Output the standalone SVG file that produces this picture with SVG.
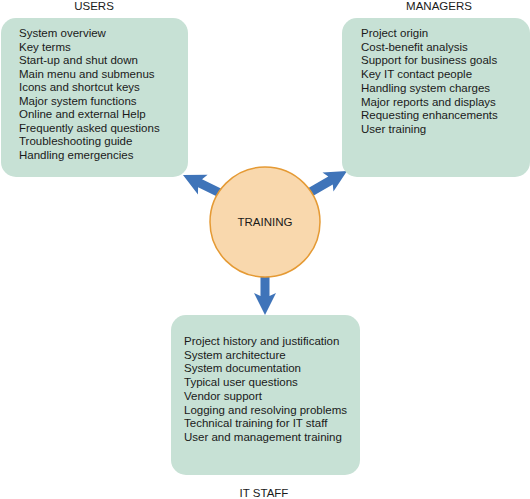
<svg xmlns="http://www.w3.org/2000/svg" width="530" height="499" viewBox="0 0 530 499">
<style>
text{font-family:"Liberation Sans",Arial,sans-serif;font-size:11.5px;fill:#1a1a1a}
.box{fill:#c7e1d5}
.title{text-anchor:middle}
.arrow{fill:#3f74b9}
</style>
<defs>
<path id="arr" d="M-52,-4.5 L-19,-4.5 L-22,-11 L0,0 L-22,11 L-19,4.5 L-52,4.5 Z"/>
</defs>
<rect width="530" height="499" fill="#ffffff"/>
<g id="connectors">
<use href="#arr" class="arrow" transform="translate(183,175) rotate(206)"/>
<use href="#arr" class="arrow" transform="translate(347,171) rotate(-30)"/>
<use href="#arr" class="arrow" transform="translate(265,315) rotate(90)"/>
</g>
<g id="users">
<rect class="box" x="1" y="18" width="187" height="159" rx="15"/>
<text class="title" x="94" y="9.5">USERS</text>
<text x="19" y="37">System overview</text>
<text x="19" y="50.5">Key terms</text>
<text x="19" y="64">Start-up and shut down</text>
<text x="19" y="77.5">Main menu and submenus</text>
<text x="19" y="91">Icons and shortcut keys</text>
<text x="19" y="104.5">Major system functions</text>
<text x="19" y="118">Online and external Help</text>
<text x="19" y="131.5">Frequently asked questions</text>
<text x="19" y="145">Troubleshooting guide</text>
<text x="19" y="158.5">Handling emergencies</text>
</g>
<g id="managers">
<rect class="box" x="342" y="18" width="188" height="159" rx="15"/>
<text class="title" x="439" y="9.5">MANAGERS</text>
<text x="361" y="37">Project origin</text>
<text x="361" y="50.7">Cost-benefit analysis</text>
<text x="361" y="64.4">Support for business goals</text>
<text x="361" y="78.1">Key IT contact people</text>
<text x="361" y="91.8">Handling system charges</text>
<text x="361" y="105.5">Major reports and displays</text>
<text x="361" y="119.2">Requesting enhancements</text>
<text x="361" y="132.9">User training</text>
</g>
<g id="itstaff">
<rect class="box" x="171" y="315" width="189" height="160" rx="15"/>
<text class="title" x="264" y="497">IT STAFF</text>
<text x="184" y="345">Project history and justification</text>
<text x="184" y="358.7">System architecture</text>
<text x="184" y="372.4">System documentation</text>
<text x="184" y="386.1">Typical user questions</text>
<text x="184" y="399.8">Vendor support</text>
<text x="184" y="413.5">Logging and resolving problems</text>
<text x="184" y="427.2">Technical training for IT staff</text>
<text x="184" y="440.9">User and management training</text>
</g>
<g id="training">
<circle cx="265" cy="222" r="55" fill="#f9d8ad" stroke="#e59a34" stroke-width="1.5"/>
<text class="title" x="265" y="226">TRAINING</text>
</g>
</svg>
